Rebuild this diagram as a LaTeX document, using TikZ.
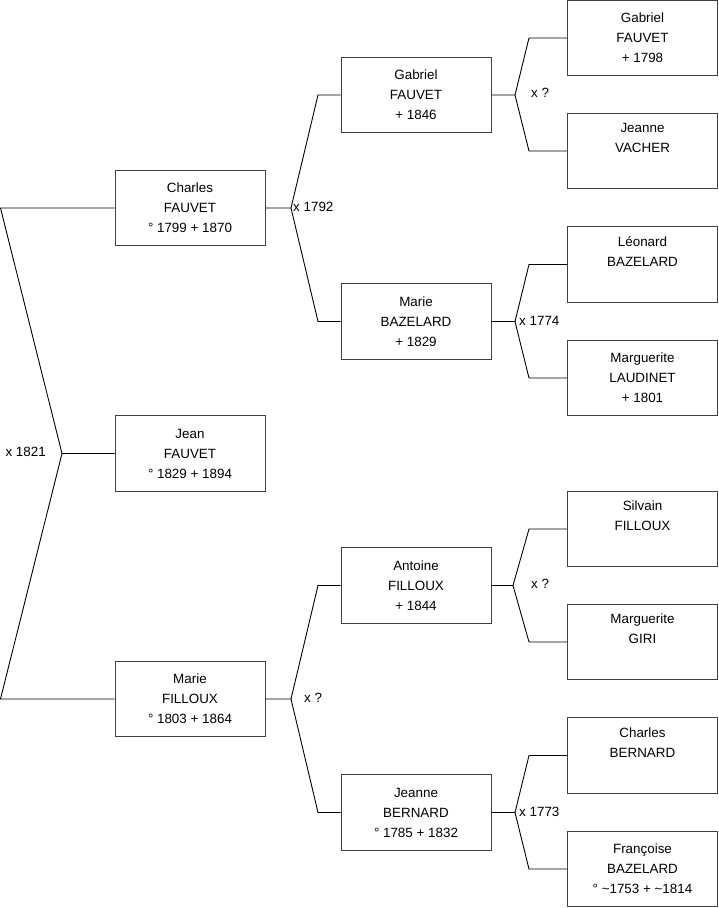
\documentclass[tikz,border=0pt]{standalone}
\usepackage{fontspec}
\setmainfont{Liberation Sans}
\begin{document}
\begin{tikzpicture}[x=1pt,y=-1pt,
  person/.style={draw=black!75, line width=1pt, minimum width=150pt, minimum height=75.5pt,
    align=center, font=\fontsize{13.4}{20}\selectfont, inner sep=0pt},
  link/.style={draw=black, line width=0.9pt},
  lbl/.style={font=\fontsize{13.4}{15}\selectfont, inner sep=0pt}]
\useasboundingbox (0,0) rectangle (719,908);
% column 1
\node[person] (charles) at (190,208) {Charles\\FAUVET\\° 1799 + 1870};
\node[person] (jean) at (190,453.5) {Jean\\FAUVET\\° 1829 + 1894};
\node[person] (marief) at (190,699) {Marie\\FILLOUX\\° 1803 + 1864};
% column 2
\node[person] (gabriel) at (416,95) {Gabriel\\FAUVET\\+ 1846};
\node[person] (marieb) at (416,321.5) {Marie\\BAZELARD\\+ 1829};
\node[person] (antoine) at (416,585.5) {Antoine\\FILLOUX\\+ 1844};
\node[person] (jeanne) at (416,812.5) {Jeanne\\BERNARD\\° 1785 + 1832};
% column 3
\node[person] (gabriel2) at (642.5,38) {Gabriel\\FAUVET\\+ 1798};
\node[person] (jeannev) at (642.5,151) {Jeanne\\VACHER\\\strut};
\node[person] (leonard) at (642.5,264.5) {Léonard\\BAZELARD\\\strut};
\node[person] (margl) at (642.5,378) {Marguerite\\LAUDINET\\+ 1801};
\node[person] (silvain) at (642.5,529) {Silvain\\FILLOUX\\\strut};
\node[person] (margg) at (642.5,642) {Marguerite\\GIRI\\\strut};
\node[person] (charlesb) at (642.5,755.5) {Charles\\BERNARD\\\strut};
\node[person] (francoise) at (642.5,869) {Françoise\\BAZELARD\\° \textasciitilde1753 + \textasciitilde1814};
% root connector
\coordinate (r0) at (62,453.5);
\coordinate (rt) at (0.5,208);
\coordinate (rb) at (0.5,699);
\draw[link] (jean.west) -- (r0) -- (rt) -- (charles.west);
\draw[link] (r0) -- (rb) -- (marief.west);
\node[lbl, anchor=east] (l0) at (46,452) {x 1821};
% Charles
\coordinate (c0) at (291,208);
\coordinate (c0t) at (318,95);
\coordinate (c0b) at (318,321.5);
\draw[link] (charles.east) -- (c0) -- (c0t) -- (gabriel.west);
\draw[link] (c0) -- (c0b) -- (marieb.west);
\node[lbl, anchor=west] (l1) at (293,207) {x 1792};
% Marie F
\coordinate (m0) at (291,699);
\coordinate (m0t) at (318,585.5);
\coordinate (m0b) at (318,812.5);
\draw[link] (marief.east) -- (m0) -- (m0t) -- (antoine.west);
\draw[link] (m0) -- (m0b) -- (jeanne.west);
\node[lbl, anchor=west] (l2) at (304,698) {x ?};
% Gabriel
\coordinate (g0) at (515,95);
\coordinate (g0t) at (529,38);
\coordinate (g0b) at (529,151);
\draw[link] (gabriel.east) -- (g0) -- (g0t) -- (gabriel2.west);
\draw[link] (g0) -- (g0b) -- (jeannev.west);
\node[lbl, anchor=west] (l3) at (531,93) {x ?};
% Marie B
\coordinate (b0) at (515,321.5);
\coordinate (b0t) at (529,264.5);
\coordinate (b0b) at (529,378);
\draw[link] (marieb.east) -- (b0) -- (b0t) -- (leonard.west);
\draw[link] (b0) -- (b0b) -- (margl.west);
\node[lbl, anchor=west] (l4) at (519,320.5) {x 1774};
% Antoine
\coordinate (a0) at (513,585.5);
\coordinate (a0t) at (529,529);
\coordinate (a0b) at (529,642);
\draw[link] (antoine.east) -- (a0) -- (a0t) -- (silvain.west);
\draw[link] (a0) -- (a0b) -- (margg.west);
\node[lbl, anchor=west] (l5) at (531,584) {x ?};
% Jeanne
\coordinate (j0) at (515,812.5);
\coordinate (j0t) at (529,755.5);
\coordinate (j0b) at (529,869);
\draw[link] (jeanne.east) -- (j0) -- (j0t) -- (charlesb.west);
\draw[link] (j0) -- (j0b) -- (francoise.west);
\node[lbl, anchor=west] (l6) at (519,812) {x 1773};
\end{tikzpicture}
\end{document}
